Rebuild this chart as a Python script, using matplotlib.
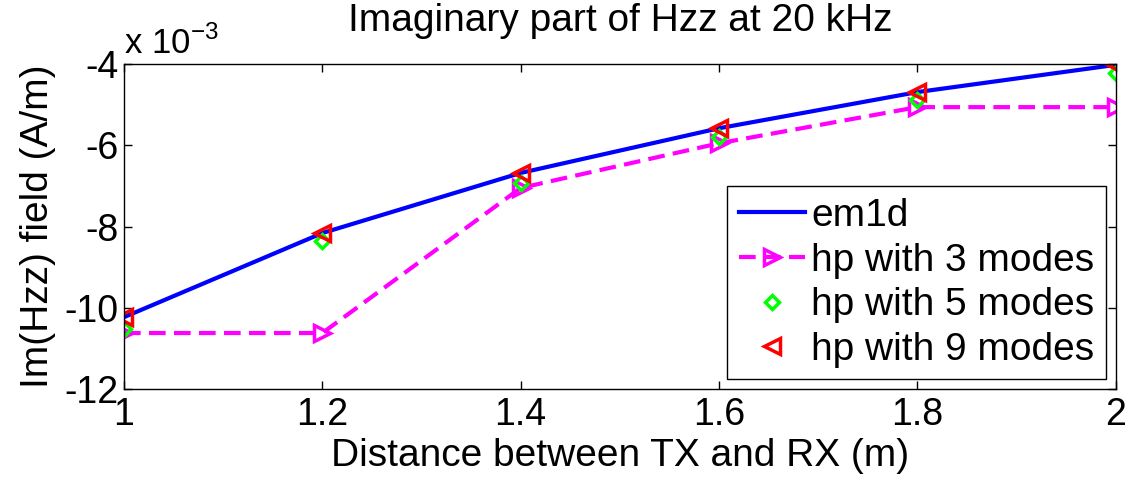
import matplotlib
matplotlib.use('Agg')
import matplotlib.pyplot as plt
import numpy as np

plt.rcParams['font.family'] = ['Liberation Sans', 'DejaVu Sans']

# distance between transmitter and receiver (m)
dist = [1.0, 1.2, 1.4, 1.6, 1.8, 2.0]

# imaginary part of Hzz (A/m)
em1d = [-10.23e-3, -8.16e-3, -6.68e-3, -5.58e-3, -4.69e-3, -4.02e-3]
hp3 = [-10.62e-3, -10.62e-3, -7.05e-3, -5.95e-3, -5.06e-3, -5.06e-3]
hp5 = [-10.52e-3, -8.36e-3, -6.92e-3, -5.80e-3, -4.89e-3, -4.21e-3]
hp9 = [-10.22e-3, -8.15e-3, -6.68e-3, -5.58e-3, -4.69e-3, -4.02e-3]

xticks = [1, 1.2, 1.4, 1.6, 1.8, 2]
yticks = [-12, -10, -8, -6, -4]

scale = 1e-3
fs = 28

fig = plt.figure(figsize=(11.27, 4.78), dpi=100)
ax = fig.add_axes([0.110, 0.186, 0.880, 0.680])

ax.plot(dist, np.array(em1d) / scale, color='#0000ff', lw=3, label='em1d')
ax.plot(dist, np.array(hp3) / scale, color='#ff00ff', lw=3, ls=(0, (4, 2)),
        marker='>', ms=11, mfc='none', mew=2.5, label='hp with 3 modes')
ax.plot(dist, np.array(hp5) / scale, ls='none', marker='D', ms=7,
        mfc='none', mec='#00ff00', mew=2.5, label='hp with 5 modes')
ax.plot(dist, np.array(hp9) / scale, ls='none', marker='<', ms=11,
        mfc='none', mec='#ff0000', mew=2.5, label='hp with 9 modes')

ax.set_xlim(1, 2)
ax.set_ylim(-12, -4)
ax.set_xticks(xticks)
ax.set_xticklabels(['1', '1.2', '1.4', '1.6', '1.8', '2'])
ax.set_yticks(yticks)
ax.set_yticklabels([str(v) for v in yticks])
ax.tick_params(direction='in', length=6, width=1, labelsize=fs - 1,
               top=True, right=True, pad=4)
ax.tick_params(axis='x', pad=6)
for s in ax.spines.values():
    s.set_linewidth(1)

ax.set_xlabel('Distance between TX and RX (m)', fontsize=fs, labelpad=3)
ax.set_ylabel('Im(Hzz) field (A/m)', fontsize=fs, labelpad=6)
ax.set_title('Imaginary part of Hzz at 20 kHz', fontsize=fs, pad=24)
ax.text(0.0, 1.01, r'x 10$^{\mathregular{-3}}$', transform=ax.transAxes,
        fontsize=fs - 3, ha='left', va='bottom')

leg = ax.legend(loc='lower right', fontsize=fs, frameon=True, fancybox=False,
                edgecolor='black', framealpha=1, borderpad=0.3,
                handlelength=1.7, handletextpad=0.16, labelspacing=0.22,
                borderaxespad=0.25)
leg.get_frame().set_linewidth(1)

fig.savefig('out.png', dpi=100)
